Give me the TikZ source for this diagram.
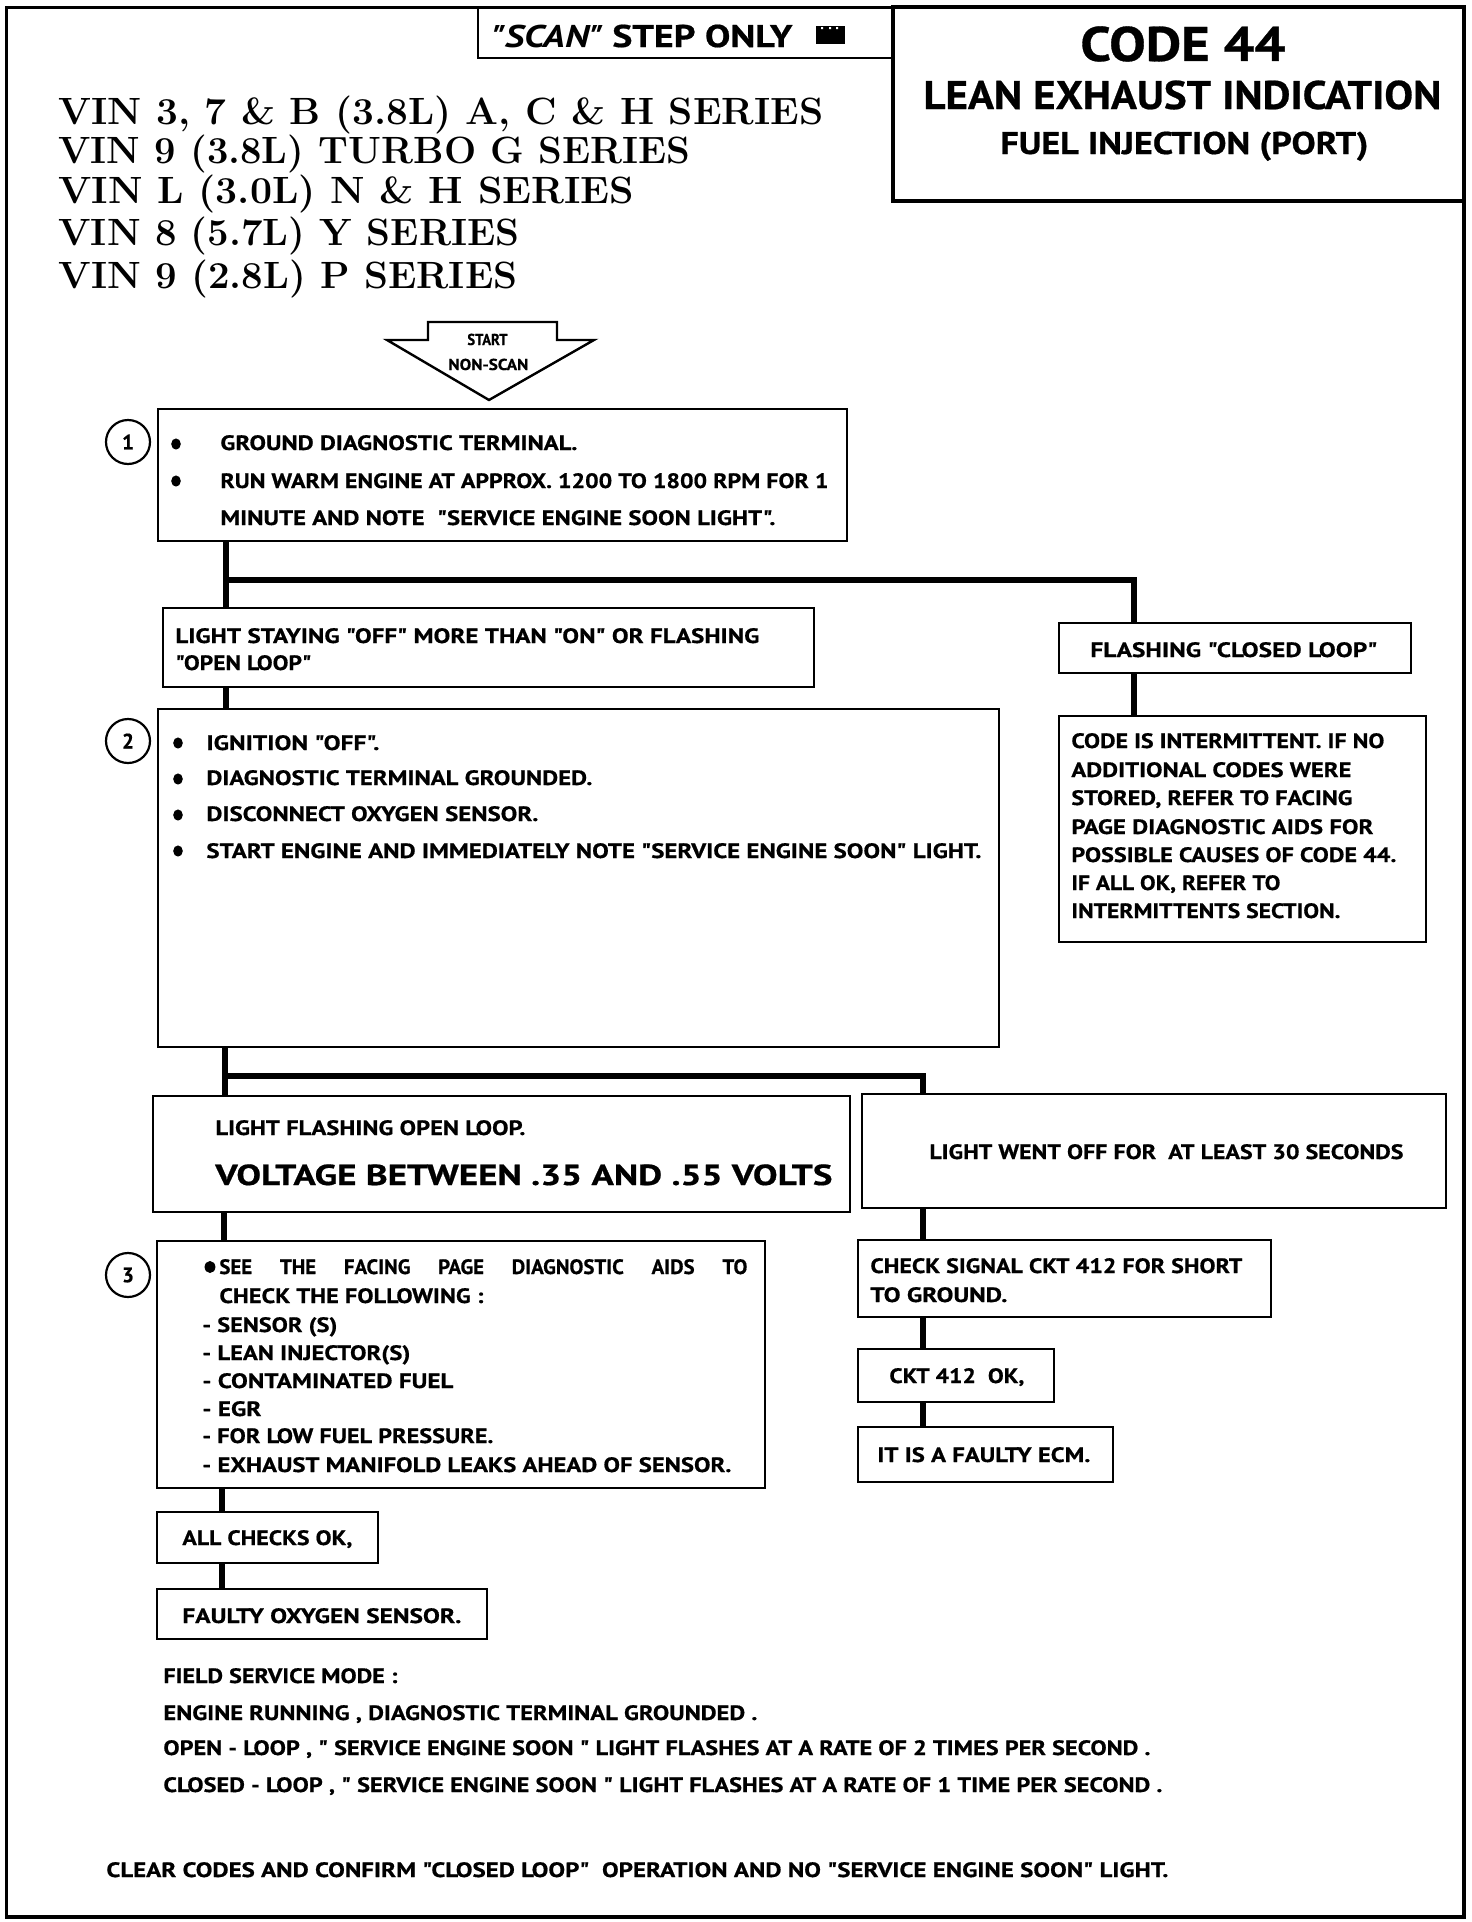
\documentclass[tikz,border=0pt]{standalone}
\usepackage{fontspec}
\usepackage{graphicx}
\newfontfamily\df{PT Sans}[BoldFeatures={FakeBold=0.6}]
\tikzset{
  box/.style={draw, line width=1.3pt, inner sep=0pt},
  conn/.style={line width=2.8pt},
  tt/.style={anchor=base west, inner sep=0pt, font=\df\bfseries\fontsize{10.4}{12}\selectfont},
  fs/.style={font=\df\bfseries\fontsize{#1}{#1}\selectfont},
  vin/.style={anchor=base west, inner sep=0pt, font=\rmfamily\bfseries\fontsize{19}{21}\selectfont},
  num/.style={circle, draw, line width=1.1pt, minimum size=22pt, inner sep=0pt, font=\df\bfseries\fontsize{10.5}{12}\selectfont},
}
\newcommand\bx[5]{\node[box, minimum width={(#4-#2)*0.5pt}, minimum height={(#5-#3)*0.5pt}] (#1) at ({(#2+#4)/2},{(#3+#5)/2}) {};}
\newcommand\tl[6][]{\node[tt,#1] (#2) at (#3,#4) {\resizebox{\dimexpr #5pt/2\relax}{\height}{#6}};}
\begin{document}
\begin{tikzpicture}[x=0.5pt,y=-0.5pt]
\useasboundingbox (0,0) rectangle (1472,1922);
% outer frame
\draw[line width=1.5pt] (6,7) rectangle (1464,1917);
\draw[line width=2.2pt] (1464,7) -- (1464,1917) -- (6,1917);
% header boxes
\bx{scan}{478}{7}{893}{58}
\node[draw, line width=2.2pt, minimum width={(1464-893)*0.5pt}, minimum height={(201-7)*0.5pt}, inner sep=0pt] (code) at ({(893+1464)/2},{(7+201)/2}) {};
\tl[fs=15.7]{scant}{491}{47}{301}{\textit{"SCAN"} STEP ONLY}
\fill (816,26) rectangle (845,44);
\fill[white] (821,27) rectangle (823,29) (829,27) rectangle (831,29) (836,27) rectangle (838,29);
\tl[fs=24.3]{code44}{1080}{61}{205}{CODE 44}
\tl[fs=20]{lean}{923}{109}{518}{LEAN EXHAUST INDICATION}
\tl[fs=15.7]{fuel}{1000}{154}{368}{FUEL INJECTION (PORT)}
% VIN lines
\node[vin] (v1) at (58,124) {\resizebox{382.5pt}{\height}{VIN 3, 7 \& B (3.8L) A, C \& H SERIES}};
\node[vin] (v2) at (58,163) {\resizebox{316pt}{\height}{VIN 9 (3.8L) TURBO G SERIES}};
\node[vin] (v3) at (58,203) {\resizebox{288pt}{\height}{VIN L (3.0L) N \& H SERIES}};
\node[vin] (v4) at (58,245) {\resizebox{230.5pt}{\height}{VIN 8 (5.7L) Y SERIES}};
\node[vin] (v5) at (58,288) {\resizebox{229.5pt}{\height}{VIN 9 (2.8L) P SERIES}};
% start arrow
\draw[line width=1.2pt, line join=miter] (428,322) -- (557,322) -- (557,340) -- (594,340) -- (489,400) -- (387,340) -- (428,340) -- cycle;
\coordinate (tip) at (489,400);
\tl[fs=7.9]{st1}{467}{345}{40}{START}
\tl[fs=7.9]{st2}{448}{370}{80}{NON-SCAN}
% boxes
\bx{b1}{158}{409}{847}{541}
\bx{ls}{163}{608}{814}{687}
\bx{fl}{1059}{623}{1411}{673}
\bx{ci}{1059}{716}{1426}{942}
\bx{b2}{158}{709}{999}{1047}
\bx{lf}{153}{1096}{850}{1212}
\bx{lw}{862}{1094}{1446}{1208}
\bx{b3}{157}{1241}{765}{1488}
\bx{cs}{858}{1240}{1271}{1317}
\bx{ck}{858}{1349}{1054}{1402}
\bx{ec}{858}{1427}{1113}{1482}
\bx{ac}{157}{1512}{378}{1563}
\bx{fo}{157}{1589}{487}{1639}
% step numbers
\node[num] (n1) at (128,442) {1};
\node[num] (n2) at (128,741) {2};
\node[num] (n3) at (128,1275) {3};
% junctions
\coordinate (j1) at (226,580);
\coordinate (j1r) at (1134,580);
\coordinate (j2) at (225,1076);
\coordinate (j2r) at (923,1076);
\coordinate (j3) at (224,1250);
\coordinate (j4) at (222,1550);
% connectors
\draw[conn] (b1.south -| j1) -- (ls.north -| j1);
\draw[conn, line join=miter] (j1) -- (j1r) -- (fl.north -| j1r);
\draw[conn] (fl.south -| j1r) -- (ci.north -| j1r);
\draw[conn] (ls.south -| j1) -- (b2.north -| j1);
\draw[conn] (b2.south -| j2) -- (lf.north -| j2);
\draw[conn, line join=miter] (j2) -- (j2r) -- (lw.north -| j2r);
\draw[conn] (lf.south -| j3) -- (b3.north -| j3);
\draw[conn] (lw.south -| j2r) -- (cs.north -| j2r);
\draw[conn] (cs.south -| j2r) -- (ck.north -| j2r);
\draw[conn] (ck.south -| j2r) -- (ec.north -| j2r);
\draw[conn] (b3.south -| j4) -- (ac.north -| j4);
\draw[conn] (ac.south -| j4) -- (fo.north -| j4);
% box 1 text
\fill (176,444) ellipse [x radius=2.4pt, y radius=2.8pt];
\fill (176,481) ellipse [x radius=2.4pt, y radius=2.8pt];
\tl{t1a}{220}{450}{357}{GROUND DIAGNOSTIC TERMINAL.}
\tl{t1b}{220}{488}{608}{RUN WARM ENGINE AT APPROX. 1200 TO 1800 RPM FOR 1}
\tl{t1c}{220}{525}{555}{MINUTE AND NOTE\ \ "SERVICE ENGINE SOON LIGHT".}
% light staying
\tl{tls1}{175}{643}{584}{LIGHT STAYING "OFF" MORE THAN "ON" OR FLASHING}
\tl{tls2}{175}{670}{136}{"OPEN LOOP"}
\tl{tfl}{1090}{657}{287}{FLASHING "CLOSED LOOP"}
% code intermittent
\tl{tc1}{1071}{748}{313}{CODE IS INTERMITTENT. IF NO}
\tl{tc2}{1071}{777}{280}{ADDITIONAL CODES WERE}
\tl{tc3}{1071}{805}{281}{STORED, REFER TO FACING}
\tl{tc4}{1071}{834}{302}{PAGE DIAGNOSTIC AIDS FOR}
\tl{tc5}{1071}{862}{325}{POSSIBLE CAUSES OF CODE 44.}
\tl{tc6}{1071}{890}{209}{IF ALL OK, REFER TO}
\tl{tc7}{1071}{918}{269}{INTERMITTENTS SECTION.}
% box 2 text
\fill (178,743) ellipse [x radius=2.4pt, y radius=2.8pt];
\fill (178,779) ellipse [x radius=2.4pt, y radius=2.8pt];
\fill (178,815) ellipse [x radius=2.4pt, y radius=2.8pt];
\fill (178,851) ellipse [x radius=2.4pt, y radius=2.8pt];
\tl{t2a}{206}{750}{173}{IGNITION "OFF".}
\tl{t2b}{206}{785}{386}{DIAGNOSTIC TERMINAL GROUNDED.}
\tl{t2c}{206}{821}{332}{DISCONNECT OXYGEN SENSOR.}
\tl{t2d}{206}{858}{775}{START ENGINE AND IMMEDIATELY NOTE "SERVICE ENGINE SOON" LIGHT.}
% light flashing
\tl{tlf1}{215}{1135}{310}{LIGHT FLASHING OPEN LOOP.}
\tl[fs=14.5]{tlf2}{215}{1185}{617}{VOLTAGE BETWEEN .35 AND .55 VOLTS}
\tl{tlw}{929}{1159}{474}{LIGHT WENT OFF FOR\ \ AT LEAST 30 SECONDS}
% box 3 text
\fill (210,1267) ellipse [x radius=2.7pt, y radius=3pt];
\node[tt] (t3a) at (219,1274) {\makebox[264pt][s]{SEE THE FACING PAGE DIAGNOSTIC AIDS TO}};
\tl{t3b}{219}{1303}{264}{CHECK THE FOLLOWING :}
\tl{t3c}{202}{1332}{135}{- SENSOR (S)}
\tl{t3d}{202}{1360}{208}{- LEAN INJECTOR(S)}
\tl{t3e}{202}{1388}{251}{- CONTAMINATED FUEL}
\tl{t3f}{202}{1416}{59}{- EGR}
\tl{t3g}{202}{1443}{291}{- FOR LOW FUEL PRESSURE.}
\tl{t3h}{202}{1472}{529}{- EXHAUST MANIFOLD LEAKS AHEAD OF SENSOR.}
% right column
\tl{tcs1}{870}{1273}{372}{CHECK SIGNAL CKT 412 FOR SHORT}
\tl{tcs2}{870}{1302}{137}{TO GROUND.}
\tl{tck}{889}{1383}{135}{CKT 412\ \ OK,}
\tl{tec}{877}{1462}{213}{IT IS A FAULTY ECM.}
% bottom left
\tl{tac}{182}{1545}{170}{ALL CHECKS OK,}
\tl{tfo}{182}{1623}{279}{FAULTY OXYGEN SENSOR.}
% field service
\tl{fs1}{163}{1683}{234}{FIELD SERVICE MODE :}
\tl{fs2}{163}{1720}{594}{ENGINE RUNNING , DIAGNOSTIC TERMINAL GROUNDED .}
\tl{fs3}{163}{1755}{987}{OPEN - LOOP , " SERVICE ENGINE SOON " LIGHT FLASHES AT A RATE OF 2 TIMES PER SECOND .}
\tl{fs4}{163}{1792}{999}{CLOSED - LOOP , " SERVICE ENGINE SOON " LIGHT FLASHES AT A RATE OF 1 TIME PER SECOND .}
\tl{clr}{106}{1877}{1062}{CLEAR CODES AND CONFIRM "CLOSED LOOP"\ \ OPERATION AND NO "SERVICE ENGINE SOON" LIGHT.}
\end{tikzpicture}
\end{document}
